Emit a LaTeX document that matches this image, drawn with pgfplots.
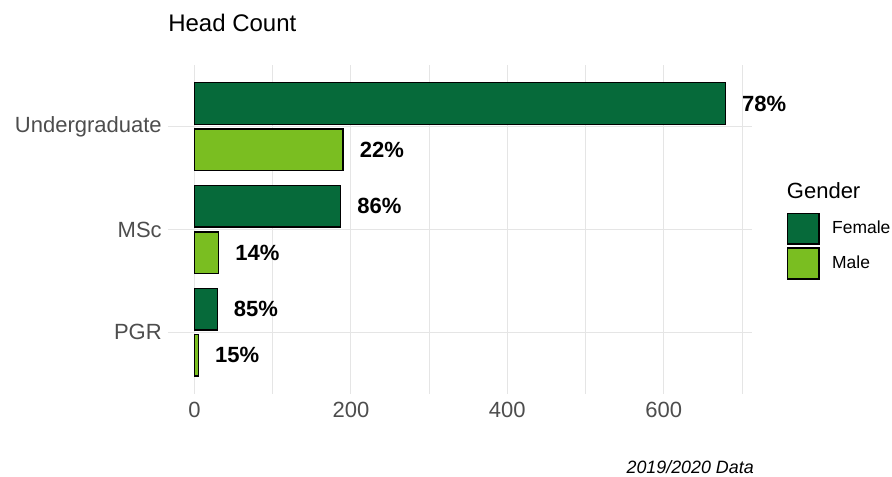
\documentclass[border=0pt]{standalone}
\usepackage{fontspec}
\setmainfont{Liberation Sans}
\usepackage{pgfplots}
\pgfplotsset{compat=1.18}
\definecolor{female}{RGB}{6,106,58}
\definecolor{male}{RGB}{122,190,33}
\definecolor{axtext}{RGB}{77,77,77}
\definecolor{gridc}{RGB}{229,229,229}
\begin{document}
\begin{tikzpicture}
\useasboundingbox (-126pt,-62.25pt) rectangle (543pt,295.5pt);
\begin{axis}[
  at={(0pt,0pt)}, anchor=south west,
  width=438pt, height=246.75pt, scale only axis,
  xmin=-34, xmax=713, ymin=0.4, ymax=3.6,
  axis line style={draw=none},
  tick style={draw=none},
  xtick={0,200,400,600}, xticklabels={0,200,400,600},
  minor xtick={100,300,500,700},
  ytick={1,2,3}, yticklabels={PGR,MSc,Undergraduate},
  xmajorgrids, xminorgrids, ymajorgrids,
  major grid style={gridc, line width=0.8pt},
  minor grid style={gridc, line width=0.5pt},
  tick label style={text=axtext, font=\fontsize{16.5}{18}\selectfont, inner sep=0pt},
  xticklabel style={yshift=-5.8pt},
  yticklabel style={xshift=-4.5pt},
  clip=false,
  point meta=explicit symbolic,
  nodes near coords,
  nodes near coords style={anchor=west, inner sep=0pt, xshift=12pt, text=black, font=\fontsize{16.5}{18}\bfseries\selectfont},
  legend cell align=left,
  legend style={at={(1.0594,0.5524)}, anchor=north west, draw=none, fill=none, inner sep=0pt, row sep=2pt, column sep=9.4pt, font=\fontsize{13.1}{15}\selectfont, nodes={inner sep=0pt}},
]
\addplot[xbar, bar width=0.403, bar shift=0pt, fill=female, draw=black, line width=1pt,
  legend image code/.code={\draw[fill=female, draw=black, line width=1pt] (0pt,-11.6pt) rectangle (23.5pt,11.6pt);}]
  coordinates {(679,3.225) [78\%] (187,2.225) [86\%] (29,1.225) [85\%]};
\addlegendentry{Female}
\addplot[xbar, bar width=0.403, bar shift=0pt, fill=male, draw=black, line width=1pt,
  legend image code/.code={\draw[fill=male, draw=black, line width=1pt] (0pt,-11.6pt) rectangle (23.5pt,11.6pt);}]
  coordinates {(190,2.775) [22\%] (31,1.775) [14\%] (5,0.775) [15\%]};
\addlegendentry{Male}
\end{axis}
\node[anchor=base west, inner sep=0pt, font=\fontsize{18}{20}\selectfont] at (0pt,271.7pt) {Head Count};
\node[anchor=base west, inner sep=0pt, font=\fontsize{16.5}{18}\selectfont] at (464pt,146.8pt) {Gender};
\node[anchor=base east, inner sep=0pt, font=\fontsize{13.4}{15}\itshape\selectfont] at (439.5pt,-59.8pt) {2019/2020 Data};
\end{tikzpicture}
\end{document}
